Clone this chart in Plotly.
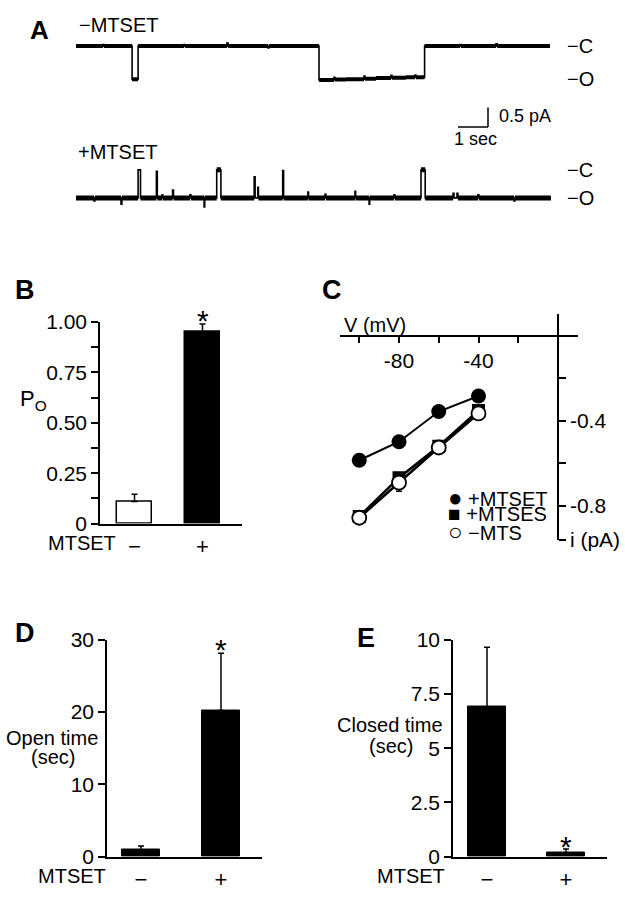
import plotly.graph_objects as go

# ------------------------------------------------------------------ data
# Panel A: idealized single-channel records (time in s, current in pA, relative to closed level)
a1_time = [0, 0.9, 0.93, 1.87, 2.07, 3.6, 3.63, 5.03, 5.07, 6.4, 6.43, 8.10, 8.6, 8.63, 9.0,
           9.6, 9.63, 10.0, 10.5, 10.53, 11.0, 11.3, 11.33, 11.62, 12.8, 12.83, 14.0, 14.04,
           15.8]
a1_current = [0, 0.04, 0, -0.85, 0, 0.04, 0, 0.08, 0, -0.05, 0, -0.87, -0.80, -0.86, -0.85,
              -0.77, -0.84, -0.82, -0.75, -0.81, -0.80, -0.74, -0.80, 0, 0.04, 0, 0.06, 0, 0]
a2_time = [0, 0.6, 0.63, 1.5, 1.53, 2.07, 2.15, 2.68, 2.71, 2.87, 2.89, 3.22, 3.25, 3.8, 3.83,
           4.27, 4.29, 4.69, 4.83, 5.94, 5.97, 6.06, 6.08, 6.89, 6.92, 7.73, 7.75, 8.3, 8.33,
           9.30, 9.32, 9.77, 9.79, 10.6, 10.63, 11.50, 11.64, 12.57, 12.60, 12.70, 12.73,
           13.4, 13.43, 14.6, 14.63, 15.83]
a2_current = [-0.72, -0.80, -0.72, -0.88, -0.72, 0, -0.72, -0.04, -0.72, -0.64, -0.72, -0.52,
              -0.72, -0.64, -0.72, -0.95, -0.72, 0, -0.72, -0.18, -0.72, -0.45, -0.72, -0.02,
              -0.72, -0.57, -0.72, -0.63, -0.72, -0.55, -0.72, -0.88, -0.72, -0.64, -0.72, 0,
              -0.72, -0.60, -0.72, -0.60, -0.72, -0.64, -0.72, -0.80, -0.72, -0.72]
a1_levels = {"C": 0.0, "O": -0.85}
a2_levels = {"C": 0.0, "O": -0.72}
scale_time_s = 1.0
scale_current_pA = 0.5

# Panel B
mtset_ticks = ["\u2212", "+"]
po_mean = [0.11, 0.95]
po_sem = [0.035, 0.04]

# Panel C
voltage_mV = [-100, -80, -60, -40]
i_mtset = [-0.586, -0.499, -0.357, -0.284]
i_mtses = [-0.85, -0.668, -0.52, -0.352]
i_nomts = [-0.856, -0.691, -0.526, -0.366]
i_nomts_sem = [0, 0.04, 0, 0]

# Panel D
open_time_mean = [0.95, 20.2]
open_time_sem = [0.55, 7.9]

# Panel E
closed_time_mean = [6.9, 0.18]
closed_time_sem = [2.74, 0.18]

# ------------------------------------------------------------------ layout helpers
W, H = 625, 899
FONT = "Liberation Sans, Arial, Helvetica, sans-serif"
FS = 21


def fx(p):
    return p / W


def fy(p):
    return 1 - p / H


def cat_axis(dom, c0, c1):
    s = c1 - c0
    return [(dom[0] - c0) / s, 1 + (dom[1] - c1) / s], s


def dwell_segments(t, i, min_dur=0.1):
    """Horizontal dwell segments of an idealized record (drawn thick = noise band)."""
    xs, ys = [], []
    for k in range(len(t) - 1):
        if t[k + 1] - t[k] >= min_dur:
            xs += [t[k], t[k + 1], None]
            ys += [i[k], i[k], None]
    return xs, ys


fig = go.Figure()
ann = []
shapes = []


def text(x, y, t, size=20, xanchor="center", bold=False):
    ann.append(dict(x=fx(x), y=fy(y), xref="paper", yref="paper",
                    text=("<b>%s</b>" % t) if bold else t,
                    showarrow=False, xanchor=xanchor, yanchor="middle",
                    font=dict(family=FONT, size=size, color="black")))


# ------------------------------------------------------------------ Panel A
A_T0, A_PXS, A_PXPA = 76, 30, 40
A_XD = (40, 620)
a_xr = [(A_XD[0] - A_T0) / A_PXS, (A_XD[1] - A_T0) / A_PXS]


def a_yr(cpx, dom):
    return [-(dom[1] - cpx) / A_PXPA, (cpx - dom[0]) / A_PXPA]


A1_C, A1_D = 35, (0, 140)
A2_C, A2_D = 162, (145, 215)

for (tt, ii, xa, ya, band) in ((a1_time, a1_current, "x", "y", 4),
                               (a2_time, a2_current, "x2", "y2", 5)):
    fig.add_trace(go.Scatter(x=tt, y=ii, mode="lines",
                             line=dict(color="black", width=1.6, shape="hv"),
                             xaxis=xa, yaxis=ya, showlegend=False))
    sx, sy = dwell_segments(tt, ii)
    fig.add_trace(go.Scatter(x=sx, y=sy, mode="lines", connectgaps=False,
                             line=dict(color="black", width=band),
                             xaxis=xa, yaxis=ya, showlegend=False))

# scale bar (anchored in trace-1 axes)
sb_t = (488 - A_T0) / A_PXS
sb_i = -(118 - A1_C) / A_PXPA
shapes.append(dict(type="line", xref="x", yref="y", x0=sb_t, x1=sb_t, y0=sb_i,
                   y1=sb_i + scale_current_pA, line=dict(color="black", width=1.5)))
shapes.append(dict(type="line", xref="x", yref="y", x0=sb_t - scale_time_s, x1=sb_t,
                   y0=sb_i, y1=sb_i, line=dict(color="black", width=1.5)))
text(497, 107, "%g pA" % scale_current_pA, size=18, xanchor="left")
text(475, 130, "%g sec" % scale_time_s, size=18)

text(39, 18, "A", size=26, bold=True)
text(77, 13, "\u2212MTSET", xanchor="left")
text(76, 144, "+MTSET", xanchor="left")
for yref, levels in (("y", a1_levels), ("y2", a2_levels)):
    for k, v in levels.items():
        ann.append(dict(x=fx(565), y=v, xref="paper", yref=yref, text="\u2212" + k,
                        showarrow=False, xanchor="left", yanchor="middle",
                        font=dict(family=FONT, size=20, color="black")))

# ------------------------------------------------------------------ Panel B
B_XD, B_YD = (100, 242), (318, 525)
b_xr, b_s = cat_axis(B_XD, 134.5, 202.5)
fig.add_trace(go.Bar(x=[0, 1], y=po_mean, width=35 / b_s,
                     marker=dict(color=["white", "black"], line=dict(color="black", width=1.5)),
                     error_y=dict(type="data", array=po_sem, arrayminus=[0, 0], symmetric=False,
                                  color="black", thickness=1.5, width=3),
                     xaxis="x3", yaxis="y3", showlegend=False))
ann.append(dict(x=1, y=po_mean[1] + po_sem[1], xref="x3", yref="y3", text="*", showarrow=False,
                yanchor="bottom", yshift=-15, font=dict(family=FONT, size=30, color="black")))
text(25, 285, "B", size=27, bold=True)
text(33, 398, "P<sub>O</sub>", size=22)
text(118, 545, "MTSET", size=20, xanchor="right")

# ------------------------------------------------------------------ Panel C
C_OX, C_OY = 558, 332
C_PXMV, C_PXPA = 1.9875, 218.5
C_XD, C_YD = (340, 578), (310, 542)
c_xr = [(C_XD[0] - C_OX) / C_PXMV, (C_XD[1] - C_OX) / C_PXMV]
c_yr = [-(C_YD[1] - C_OY) / C_PXPA, (C_OY - C_YD[0]) / C_PXPA]

fig.add_trace(go.Scatter(x=voltage_mV, y=i_mtset, mode="lines+markers", name="+MTSET",
                         line=dict(color="black", width=2),
                         marker=dict(symbol="circle", size=15, color="black"),
                         xaxis="x4", yaxis="y4", showlegend=False))
fig.add_trace(go.Scatter(x=voltage_mV, y=i_mtses, mode="lines+markers", name="+MTSES",
                         line=dict(color="black", width=2.5),
                         marker=dict(symbol="square", size=13, color="black"),
                         xaxis="x4", yaxis="y4", showlegend=False))
fig.add_trace(go.Scatter(x=voltage_mV, y=i_nomts, mode="lines+markers", name="\u2212MTS",
                         line=dict(color="black", width=2.5),
                         marker=dict(symbol="circle", size=14, color="white",
                                     line=dict(color="black", width=1.8)),
                         error_y=dict(type="data", array=i_nomts_sem, color="black",
                                      thickness=1.5, width=3),
                         xaxis="x4", yaxis="y4", showlegend=False))
text(332, 285, "C", size=27, bold=True)
text(342, 321, "V (mV)", size=20, xanchor="left")
legend_rows = [("\u25CF", 24, "+MTSET", 498), ("\u25A0", 21, "+MTSES", 515),
               ("\u25CB", 24, "\u2212MTS", 533)]
for sym, ssz, lab, yy in legend_rows:
    text(446, yy, "<span style='font-size:%dpx'>%s</span> %s" % (ssz, sym, lab),
         size=20, xanchor="left")

# ------------------------------------------------------------------ Panel D
D_XD, D_YD = (107, 262), (644, 867)
d_xr, d_s = cat_axis(D_XD, 141, 221)
fig.add_trace(go.Bar(x=[0, 1], y=open_time_mean, width=38 / d_s,
                     marker=dict(color="black", line=dict(color="black", width=1)),
                     error_y=dict(type="data", array=open_time_sem, arrayminus=[0, 0],
                                  symmetric=False, color="black", thickness=1.5, width=3),
                     xaxis="x5", yaxis="y5", showlegend=False))
ann.append(dict(x=1, y=open_time_mean[1] + open_time_sem[1], xref="x5", yref="y5", text="*",
                showarrow=False, yanchor="bottom", yshift=-15,
                font=dict(family=FONT, size=30, color="black")))
text(25, 637, "D", size=27, bold=True)
text(52, 745, "Open time", size=20)
text(53, 765, "(sec)", size=20)
text(108, 887, "MTSET", size=20, xanchor="right")

# ------------------------------------------------------------------ Panel E
E_XD, E_YD = (453, 607), (644, 867)
e_xr, e_s = cat_axis(E_XD, 487, 566)
fig.add_trace(go.Bar(x=[0, 1], y=closed_time_mean, width=38 / e_s,
                     marker=dict(color="black", line=dict(color="black", width=1)),
                     error_y=dict(type="data", array=closed_time_sem, arrayminus=[0, 0],
                                  symmetric=False, color="black", thickness=1.5, width=3),
                     xaxis="x6", yaxis="y6", showlegend=False))
ann.append(dict(x=1, y=closed_time_mean[1] + closed_time_sem[1], xref="x6", yref="y6", text="*",
                showarrow=False, yanchor="bottom", yshift=-16,
                font=dict(family=FONT, size=30, color="black")))
text(366, 642, "E", size=27, bold=True)
text(390, 732, "Closed time", size=20)
text(391, 753, "(sec)", size=20)
text(447, 887, "MTSET", size=20, xanchor="right")

# ------------------------------------------------------------------ axes
hidden = dict(visible=False, showgrid=False, zeroline=False)
tickfont = dict(family=FONT, size=FS, color="black")
tickstyle = dict(ticks="outside", ticklen=7, tickwidth=1.5, tickcolor="black")


def yax(dom, rng, vals, txt, minor=None):
    d = dict(domain=[fy(dom[1]), fy(dom[0])], range=rng, showline=True, linecolor="black",
             linewidth=1.5, tickvals=vals, ticktext=txt, tickfont=tickfont, showgrid=False,
             zeroline=False, fixedrange=True, **tickstyle)
    if minor:
        d["minor"] = dict(tickvals=minor, showgrid=False, **tickstyle)
    return d


def xcat(dom, rng):
    return dict(domain=[fx(dom[0]), fx(dom[1])], range=rng, showline=True, linecolor="black",
                linewidth=1.5, ticks="", tickvals=[0, 1], ticktext=mtset_ticks,
                tickfont=dict(family=FONT, size=22, color="black"), showgrid=False,
                zeroline=False, ticklabelstandoff=2)


fig.update_layout(
    width=W, height=H, autosize=False, margin=dict(l=0, r=0, t=0, b=0),
    paper_bgcolor="white", plot_bgcolor="rgba(0,0,0,0)", showlegend=False,
    font=dict(family=FONT, size=FS, color="black"),
    xaxis=dict(domain=[fx(A_XD[0]), fx(A_XD[1])], range=a_xr, anchor="y", **hidden),
    yaxis=dict(domain=[fy(A1_D[1]), fy(A1_D[0])], range=a_yr(A1_C, A1_D), anchor="x", **hidden),
    xaxis2=dict(domain=[fx(A_XD[0]), fx(A_XD[1])], range=a_xr, anchor="y2", **hidden),
    yaxis2=dict(domain=[fy(A2_D[1]), fy(A2_D[0])], range=a_yr(A2_C, A2_D), anchor="x2", **hidden),
    xaxis3=dict(anchor="y3", **xcat(B_XD, b_xr)),
    yaxis3=dict(anchor="x3", **yax(B_YD, [0, 1.0], [0, 0.25, 0.5, 0.75, 1.0],
                                   ["0", "0.25", "0.50", "0.75", "1.00"],
                                   minor=[0.125, 0.375, 0.625, 0.875])),
    xaxis4=dict(domain=[fx(C_XD[0]), fx(C_XD[1])], range=c_xr, anchor="free", position=fy(C_OY),
                side="bottom", showline=True, linecolor="black", linewidth=1.5,
                tickvals=[-80, -40], ticktext=["-80", "-40"], tickfont=tickfont,
                minor=dict(tickvals=[-100, -60, -20], showgrid=False, **tickstyle),
                showgrid=False, zeroline=False, **tickstyle),
    yaxis4=dict(domain=[fy(C_YD[1]), fy(C_YD[0])], range=c_yr, anchor="free", position=fx(C_OX),
                side="right", showline=True, linecolor="black", linewidth=1.5,
                tickvals=[-0.4, -0.8, c_yr[0]], ticktext=["-0.4", "-0.8", "i (pA)"],
                tickfont=tickfont,
                minor=dict(tickvals=[-0.2, -0.6], showgrid=False, **tickstyle),
                showgrid=False, zeroline=False, **tickstyle),
    xaxis5=dict(anchor="y5", **xcat(D_XD, d_xr)),
    yaxis5=dict(anchor="x5", **yax(D_YD, [0, 30], [0, 10, 20, 30], ["0", "10", "20", "30"])),
    xaxis6=dict(anchor="y6", **xcat(E_XD, e_xr)),
    yaxis6=dict(anchor="x6", **yax(E_YD, [0, 10], [0, 2.5, 5, 7.5, 10],
                                   ["0", "2.5", "5", "7.5", "10"])),
    annotations=ann, shapes=shapes, bargap=0,
)

fig.write_html("out.html", config={"displayModeBar": False},
               post_script="document.body.style.margin='0';")
